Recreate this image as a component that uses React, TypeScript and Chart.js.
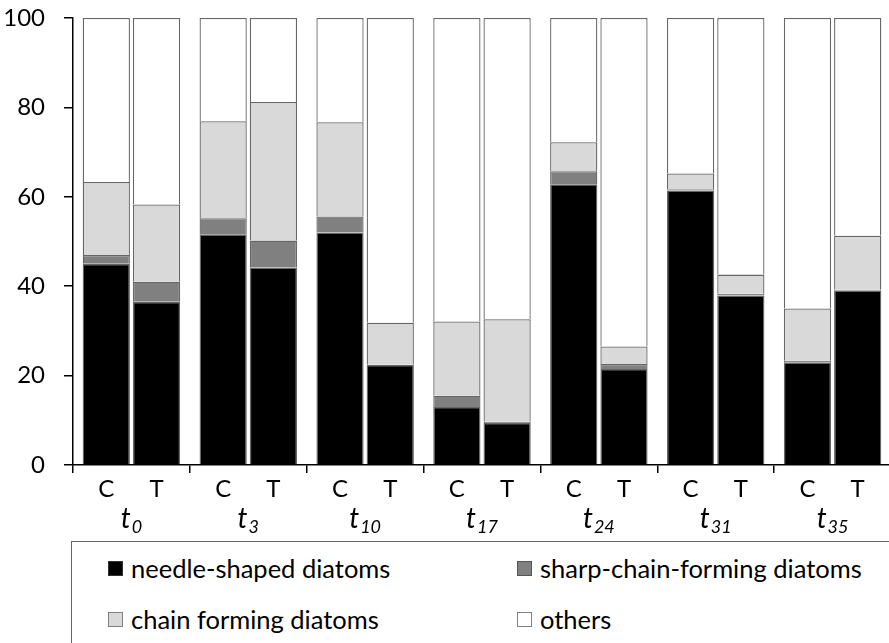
import React, { useEffect, useRef } from 'react';
import { Chart, registerables } from 'chart.js';

Chart.register(...registerables);

// ---- data ----
const timePoints = ['0', '3', '10', '17', '24', '31', '35'];
const treatments = ['C', 'T'];
const yTicks = [0, 20, 40, 60, 80, 100];

const seriesNames = ['needle-shaped diatoms', 'sharp-chain-forming diatoms', 'chain forming diatoms', 'others'];
const seriesColors = ['#000000', '#808080', '#d9d9d9', '#ffffff'];

const needleC = [45.0, 51.6, 52.0, 13.0, 62.8, 61.4, 22.9];
const needleT = [36.5, 44.2, 22.4, 9.4, 21.5, 37.9, 39.0];
const sharpC = [2.0, 3.6, 3.6, 2.5, 2.9, 0.3, 0.4];
const sharpT = [4.5, 6.0, 0.0, 0.3, 1.1, 0.4, 0.2];
const chainC = [16.3, 21.7, 21.1, 16.6, 6.5, 3.5, 11.7];
const chainT = [17.3, 31.0, 9.4, 22.9, 3.9, 4.3, 12.1];
const othersC = [36.7, 23.1, 23.3, 67.9, 27.8, 34.8, 65.0];
const othersT = [41.7, 18.8, 68.2, 67.4, 73.5, 57.4, 48.7];

const seriesData: number[][][] = [
  [needleC, needleT],
  [sharpC, sharpT],
  [chainC, chainT],
  [othersC, othersT],
];

const FONT = 'Lato, "Open Sans", sans-serif';
const CANVAS_W = 894;
const CANVAS_H = 540;
const AREA_BOTTOM = 465;
const TICK_SIZE = 24;

const labelPlugin = {
  id: 'xLabels',
  afterDraw(chart: any) {
    const ctx = chart.ctx;
    const xs = chart.scales.x;
    ctx.save();
    ctx.fillStyle = '#000';
    ctx.textAlign = 'center';
    ctx.textBaseline = 'middle';
    ctx.font = `${TICK_SIZE}px ${FONT}`;
    treatments.forEach((tr, ti) => {
      const meta = chart.getDatasetMeta(ti);
      meta.data.forEach((bar: any) => {
        ctx.fillText(tr, bar.x, 489);
      });
    });
    ctx.textAlign = 'left';
    ctx.textBaseline = 'alphabetic';
    timePoints.forEach((tp, i) => {
      const cx = xs.getPixelForValue(i);
      ctx.font = `italic 28px ${FONT}`;
      const w1 = ctx.measureText('t').width;
      ctx.font = `italic 18px ${FONT}`;
      const w2 = ctx.measureText(tp).width;
      const start = cx - (w1 + w2 + 1) / 2;
      ctx.font = `italic 28px ${FONT}`;
      ctx.fillText('t', start, 528);
      ctx.font = `italic 18px ${FONT}`;
      ctx.fillText(tp, start + w1 + 1, 533);
    });
    ctx.restore();
  },
};

export default function App() {
  const ref = useRef<HTMLCanvasElement | null>(null);

  useEffect(() => {
    if (!ref.current) return;
    const datasets: any[] = [];
    seriesNames.forEach((name, si) => {
      treatments.forEach((tr, ti) => {
        datasets.push({
          label: name + ' ' + tr,
          data: seriesData[si][ti],
          stack: tr,
          backgroundColor: seriesColors[si],
          borderColor: '#666666',
          borderWidth: 1.3,
          borderSkipped: 'bottom',
          categoryPercentage: 0.86,
          barPercentage: 0.94,
        });
      });
    });

    const chart = new Chart(ref.current, {
      type: 'bar',
      data: { labels: timePoints.map((t) => 't' + t), datasets },
      options: {
        animation: false,
        responsive: false,
        devicePixelRatio: 1,
        layout: { padding: { top: 18, right: 3, left: 0, bottom: 0 } },
        plugins: { legend: { display: false }, tooltip: { enabled: false } },
        scales: {
          x: {
            stacked: true,
            offset: true,
            grid: { display: true, drawOnChartArea: false, offset: true, tickLength: 8, color: '#000', lineWidth: 1.5 },
            border: { display: true, color: '#000', width: 1.5 },
            ticks: { callback: () => '', autoSkip: false, maxRotation: 0 },
            afterFit: (s: any) => { s.height = CANVAS_H - AREA_BOTTOM; s.paddingLeft = 0; s.paddingRight = 0; },
          },
          y: {
            stacked: true,
            min: 0,
            max: 100,
            afterBuildTicks: (s: any) => { s.ticks = yTicks.map((v) => ({ value: v })); },
            ticks: { color: '#000', font: { family: FONT, size: TICK_SIZE }, padding: 19 },
            grid: { display: true, drawOnChartArea: false, tickLength: 9, color: '#000', lineWidth: 1.5 },
            border: { display: true, color: '#000', width: 1.5 },
            afterFit: (s: any) => { s.width = 73; s.paddingTop = 0; s.paddingBottom = 0; },
          },
        },
      },
      plugins: [labelPlugin],
    });
    if ((document as any).fonts) {
      (document as any).fonts.load(`21px Lato`).then(() => chart.update());
    }
    return () => chart.destroy();
  }, []);

  const legendItems = [
    { i: 0, left: 108, top: 568 },
    { i: 1, left: 517, top: 568 },
    { i: 2, left: 108, top: 619 },
    { i: 3, left: 517, top: 619 },
  ];
  const sqBorders = ['#333333', '#555555', '#808080', '#808080'];

  return (
    <div style={{ position: 'fixed', left: 0, top: 0, width: 889, height: 643, overflow: 'hidden', background: '#fff' }}>
      <canvas ref={ref} width={CANVAS_W} height={CANVAS_H} style={{ position: 'absolute', left: 0, top: 0, width: CANVAS_W, height: CANVAS_H }} />
      <div style={{ position: 'absolute', left: 71, top: 541, width: 900, height: 140, border: '1.5px solid #666', boxSizing: 'border-box', background: '#fff' }} />
      {legendItems.map((it) => (
        <React.Fragment key={it.i}>
          <div style={{ position: 'absolute', left: it.left, top: it.top - 7.5, width: 15, height: 15, boxSizing: 'border-box', background: seriesColors[it.i], border: `1.2px solid ${sqBorders[it.i]}` }} />
          <div style={{ position: 'absolute', left: it.left + 23, top: it.top - 16, height: 32, lineHeight: '32px', fontFamily: FONT, fontSize: 25.5, color: '#000', whiteSpace: 'nowrap' }}>{seriesNames[it.i]}</div>
        </React.Fragment>
      ))}
    </div>
  );
}
